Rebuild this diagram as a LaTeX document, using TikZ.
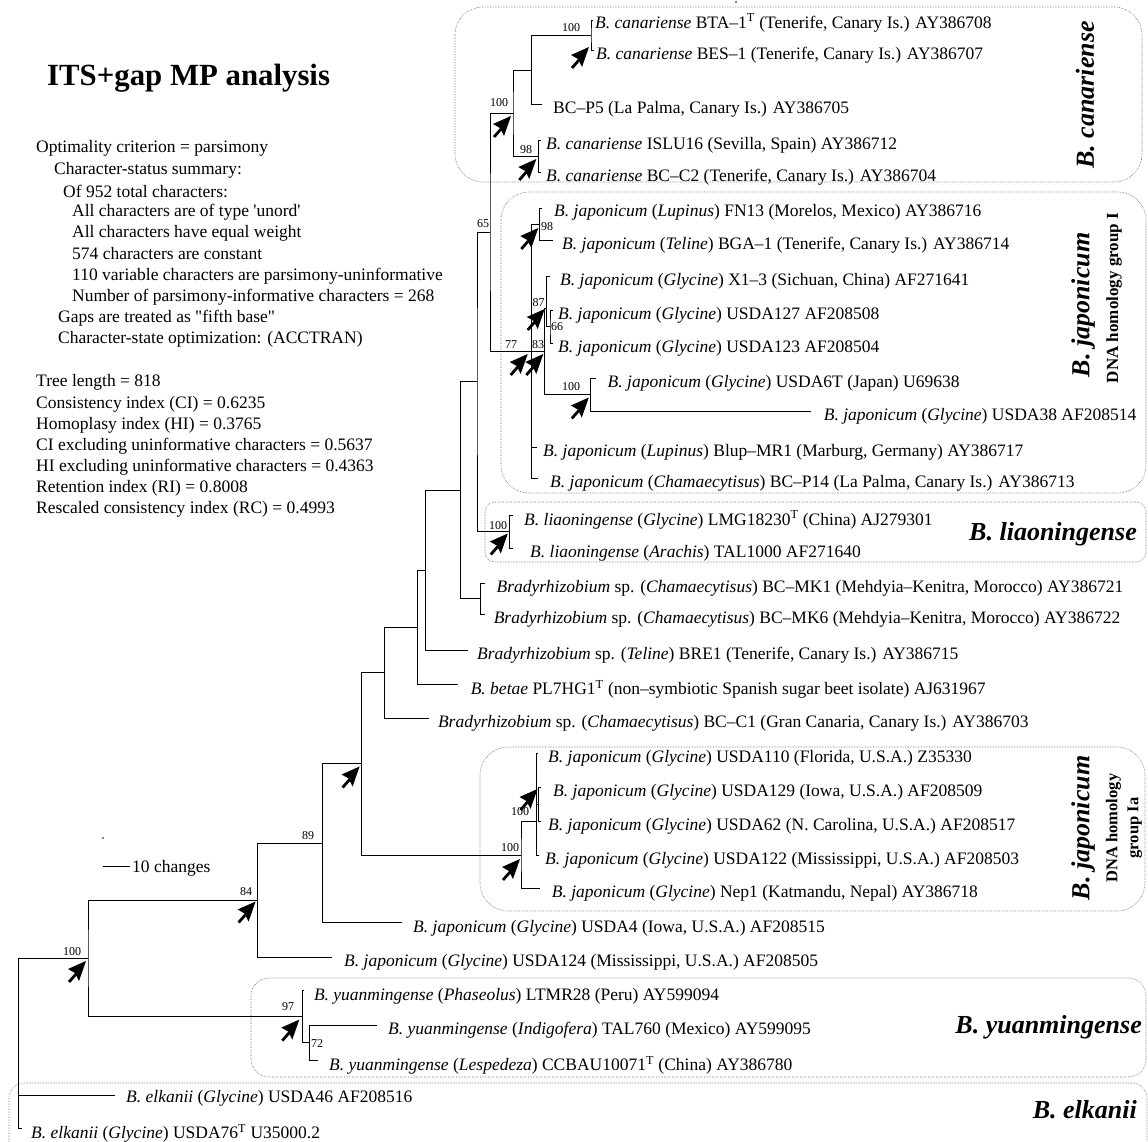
\documentclass[tikz,border=0pt]{standalone}
\usepackage{fontspec}
\setmainfont{Liberation Serif}
\newfontfamily\nolig{Liberation Serif}
\usetikzlibrary{arrows.meta,positioning}

\newcommand{\leaffont}{\fontsize{17.5}{21}\selectfont}
\newcommand{\bsfont}{\fontsize{12}{14}\selectfont}
\newcommand{\grpfont}{\bfseries\itshape\fontsize{26}{30}\selectfont}
\newcommand{\tsup}{\textsuperscript{T}}

\tikzset{
  leaf/.style={anchor=west, inner sep=0pt, font=\leaffont},
  stat/.style={anchor=west, inner sep=0pt, font=\leaffont},
  boot/.style={inner sep=0pt, font=\bsfont},
  grp/.style={inner sep=0pt, font=\grpfont},
  grpnote/.style={inner sep=0pt, font=\bfseries\fontsize{17}{21}\selectfont},
  branch/.style={line width=0.9pt},
  grpbox/.style={densely dotted, line width=0.6pt, black!60},
  bsarr/.pic={
    \fill (0,0) -- (-18,8) -- (-11,12) -- (-7,20) -- cycle;
    \draw[line width=2.8pt] (-10,13) -- (-17,21);
  }
}

\begin{document}
\begin{tikzpicture}[x=1pt,y=-1pt]
  \useasboundingbox (0,0) rectangle (1148,1141);
  \clip (0,0) rectangle (1148,1141);

  % title and statistics
  \node[anchor=west, inner sep=0pt, font=\bfseries\fontsize{30.8}{36}\selectfont] (title) at (47,78) {ITS+gap MP analysis};
  \node[stat] (s1) at (36,148) {Optimality criterion = parsimony};
  \node[stat] (s2) at (54,170) {Character-status summary:};
  \node[stat] (s3) at (63,191) {Of 952 total characters:};
  \node[stat] (s4) at (72,212) {All characters are of type {\nolig 'unord'}};
  \node[stat] (s5) at (72,233) {All characters have equal weight};
  \node[stat] (s6) at (72,254) {574 characters are constant};
  \node[stat] (s7) at (72,276) {110 variable characters are parsimony-uninformative};
  \node[stat] (s8) at (72,297) {Number of parsimony-informative characters = 268};
  \node[stat] (s9) at (58,318) {Gaps are treated as {\nolig "fifth base"}};
  \node[stat] (s10) at (58,339) {Character-state optimization: (ACCTRAN)};
  \node[stat] (s11) at (36,382) {Tree length = 818};
  \node[stat] (s12) at (36,404) {Consistency index (CI) = 0.6235};
  \node[stat] (s13) at (36,425) {Homoplasy index (HI) = 0.3765};
  \node[stat] (s14) at (36,446) {CI excluding uninformative characters = 0.5637};
  \node[stat] (s15) at (36,467) {HI excluding uninformative characters = 0.4363};
  \node[stat] (s16) at (36,488) {Retention index (RI) = 0.8008};
  \node[stat] (s17) at (36,509) {Rescaled consistency index (RC) = 0.4993};

  % group boxes
  \draw[grpbox, rounded corners=28pt] (455,7) rectangle (1142,182);
  \draw[grpbox, rounded corners=28pt] (501,192) rectangle (1146,493);
  \draw[grpbox, rounded corners=10pt] (485,502) rectangle (1146,562);
  \draw[grpbox, rounded corners=28pt] (480,747) rectangle (1145,911);
  \draw[grpbox, rounded corners=18pt] (251,978) rectangle (1146,1077);
  \draw[grpbox, rounded corners=15pt] (9,1083) rectangle (1147,1170);

  % internal nodes
  \coordinate (root) at (18,958);
  \coordinate (n100) at (88,958);
  \coordinate (n84) at (257.6,900.5);
  \coordinate (n89) at (322.6,843);
  \coordinate (nF) at (361.6,763.5);
  \coordinate (nE) at (384.9,672.5);
  \coordinate (nD) at (417.7,627);
  \coordinate (nC) at (425.5,570);
  \coordinate (nB) at (460.8,490);
  \coordinate (nA) at (477,381);
  \coordinate (n65) at (490,232);
  \coordinate (nCan) at (513,113);
  \coordinate (nCanP) at (531.7,70);
  \coordinate (nBTA) at (591,35);
  \coordinate (nCan98) at (538.3,156);
  \coordinate (n77) at (531.7,351);
  \coordinate (nJ98) at (539.3,224);
  \coordinate (n83) at (544.3,351);
  \coordinate (n87) at (546.7,308);
  \coordinate (n66) at (550,326.5);
  \coordinate (n100b) at (590.8,394.5);
  \coordinate (nLiao) at (509.8,531.5);
  \coordinate (nMK) at (480.4,598.5);
  \coordinate (nIa) at (521,855);
  \coordinate (nIaIn) at (536.7,821.7);
  \coordinate (nIa2) at (538.7,804);
  \coordinate (n97) at (302.3,1016.6);
  \coordinate (n72) at (309.2,1042.5);

  % leaf tips
  \coordinate (lBTA) at (593,20);
  \coordinate (lBES) at (594,50);
  \coordinate (lBCP5) at (541.7,104);
  \coordinate (lISLU) at (541,140);
  \coordinate (lBCC2) at (541,172);
  \coordinate (lFN13) at (542,208);
  \coordinate (lBGA) at (552.7,240);
  \coordinate (lX13) at (550,276);
  \coordinate (lU127) at (552.5,310);
  \coordinate (lU123) at (552.5,343);
  \coordinate (lU6T) at (595.6,378);
  \coordinate (lU38) at (811,411);
  \coordinate (lBlup) at (536.7,447);
  \coordinate (lP14) at (538,478);
  \coordinate (lLMG) at (513,515);
  \coordinate (lTAL1000) at (513,548);
  \coordinate (lMK1) at (485.3,583);
  \coordinate (lMK6) at (485.3,614);
  \coordinate (lBRE1) at (468,650);
  \coordinate (lbetae) at (458.4,684);
  \coordinate (lBCC1) at (429,718);
  \coordinate (lU110) at (537.5,753);
  \coordinate (lU129) at (540.5,787);
  \coordinate (lU62) at (540.5,821);
  \coordinate (lU122) at (539,855);
  \coordinate (lNep1) at (540,888);
  \coordinate (lU4) at (401.8,922.7);
  \coordinate (lU124) at (332,957);
  \coordinate (lLTMR) at (304,990.7);
  \coordinate (lTAL760) at (377,1025);
  \coordinate (lCCBAU) at (317.6,1060);
  \coordinate (lU46) at (115,1095);
  \coordinate (lU76) at (22,1128);

  % branches
  \draw[branch] (n100) -| (root) |- (lU76);
  \draw[branch] (root |- lU46) -- (lU46);
  \draw[branch] (n84) -| (n100) |- (n97);
  \draw[branch] (n89) -| (n84) |- (lU124);
  \draw[branch] (nF) -| (n89) |- (lU4);
  \draw[branch] (nE) -| (nF) |- (nIa);
  \draw[branch] (nD) -| (nE) |- (lBCC1);
  \draw[branch] (nC) -| (nD) |- (lbetae);
  \draw[branch] (nB) -| (nC) |- (lBRE1);
  \draw[branch] (nA) -| (nB) |- (nMK);
  \draw[branch] (n65) -| (nA) |- (nLiao);
  \draw[branch] (nCan) -| (n65) |- (n77);
  \draw[branch] (nCanP) -| (nCan) |- (nCan98);
  \draw[branch] (nBTA) -| (nCanP) |- (lBCP5);
  \draw[branch] (lBTA) -| (nBTA) |- (lBES);
  \draw[branch] (lISLU) -| (nCan98) |- (lBCC2);
  \draw[branch] (nJ98) -| (n77) |- (lP14);
  \draw[branch] (n77) -- (n83);
  \draw[branch] (n77 |- lBlup) -- (lBlup);
  \draw[branch] (lFN13) -| (nJ98) |- (lBGA);
  \draw[branch] (n87) -| (n83) |- (n100b);
  \draw[branch] (lX13) -| (n87) |- (n66);
  \draw[branch] (lU127) -| (n66) |- (lU123);
  \draw[branch] (lU6T) -| (n100b) |- (lU38);
  \draw[branch] (lLMG) -| (nLiao) |- (lTAL1000);
  \draw[branch] (lMK1) -| (nMK) |- (lMK6);
  \draw[branch] (nIaIn) -| (nIa) |- (lNep1);
  \draw[branch] (lU110) -| (nIaIn) |- (lU122);
  \draw[branch] (nIaIn |- nIa2) -- (nIa2);
  \draw[branch] (lU129) -| (nIa2) |- (lU62);
  \draw[branch] (lLTMR) -| (n97) |- (n72);
  \draw[branch] (lTAL760) -| (n72) |- (lCCBAU);

  % bootstrap values
  \node[boot] (bCan) at (499,103) {100};
  \node[boot] (bBTA) at (571,28) {100};
  \node[boot] (bCan98) at (526,150) {98};
  \node[boot] (b65) at (483,224) {65};
  \node[boot] (bJ98) at (547,227) {98};
  \node[boot] (b87) at (538.5,303) {87};
  \node[boot] (b66) at (557,327) {66};
  \node[boot] (b77) at (511,345) {77};
  \node[boot] (b83) at (538,345) {83};
  \node[boot] (b100b) at (571,387) {100};
  \node[boot] (bLiao) at (498,526) {100};
  \node[boot] (bIaIn) at (520,812) {100};
  \node[boot] (bIa) at (510,848) {100};
  \node[boot] (b89) at (308,836) {89};
  \node[boot] (b84) at (246,892) {84};
  \node[boot] (b100) at (72,952) {100};
  \node[boot] (b97) at (288,1007) {97};
  \node[boot] (b72) at (317,1044) {72};

  % support arrows
  \pic at ([shift={(-2,3)}]nCan) {bsarr};
  \pic at ([shift={(-2,12)}]nBTA) {bsarr};
  \pic at ([shift={(-2,3)}]nCan98) {bsarr};
  \pic at ([shift={(-1,4)}]nJ98) {bsarr};
  \pic at ([shift={(-2,1)}]n87) {bsarr};
  \pic at ([shift={(-4,3)}]n77) {bsarr};
  \pic at ([shift={(-1,3)}]n83) {bsarr};
  \pic at ([shift={(-2,3)}]n100b) {bsarr};
  \pic at ([shift={(-2,2)}]nLiao) {bsarr};
  \pic at ([shift={(-3,2)}]lU129) {bsarr};
  \pic at ([shift={(-1,4)}]nIa) {bsarr};
  \pic at ([shift={(-2,3)}]nF) {bsarr};
  \pic at ([shift={(-2,1)}]n84) {bsarr};
  \pic at ([shift={(-2,3)}]n100) {bsarr};
  \pic at ([shift={(-3,3)}]n97) {bsarr};

  % leaf labels
  \node[leaf] (tBTA) at (595,23) {\textit{B. canariense} BTA–1\tsup{} (Tenerife, Canary Is.) AY386708};
  \node[leaf] (tBES) at (596,55) {\textit{B. canariense} BES–1 (Tenerife, Canary Is.) AY386707};
  \node[leaf] (tBCP5) at (553,109) {BC–P5 (La Palma, Canary Is.) AY386705};
  \node[leaf] (tISLU) at (546,145) {\textit{B. canariense} ISLU16 (Sevilla, Spain) AY386712};
  \node[leaf] (tBCC2) at (546,177) {\textit{B. canariense} BC–C2 (Tenerife, Canary Is.) AY386704};
  \node[leaf] (tFN13) at (554,212) {\textit{B. japonicum} (\textit{Lupinus}) FN13 (Morelos, Mexico) AY386716};
  \node[leaf] (tBGA) at (562,245) {\textit{B. japonicum} (\textit{Teline}) BGA–1 (Tenerife, Canary Is.) AY386714};
  \node[leaf] (tX13) at (560,281) {\textit{B. japonicum} (\textit{Glycine}) X1–3 (Sichuan, China) AF271641};
  \node[leaf] (tU127) at (558,315) {\textit{B. japonicum} (\textit{Glycine}) USDA127 AF208508};
  \node[leaf] (tU123) at (558,348) {\textit{B. japonicum} (\textit{Glycine}) USDA123 AF208504};
  \node[leaf] (tU6T) at (607.5,383) {\textit{B. japonicum} (\textit{Glycine}) USDA6T (Japan) U69638};
  \node[leaf] (tU38) at (823.6,416) {\textit{B. japonicum} (\textit{Glycine}) USDA38 AF208514};
  \node[leaf] (tBlup) at (543,452) {\textit{B. japonicum} (\textit{Lupinus}) Blup–MR1 (Marburg, Germany) AY386717};
  \node[leaf] (tP14) at (550,483) {\textit{B. japonicum} (\textit{Chamaecytisus}) BC–P14 (La Palma, Canary Is.) AY386713};
  \node[leaf] (tLMG) at (524,520) {\textit{B. liaoningense} (\textit{Glycine}) LMG18230\tsup{} (China) AJ279301};
  \node[leaf] (tTAL1000) at (530,553) {\textit{B. liaoningense} (\textit{Arachis}) TAL1000 AF271640};
  \node[leaf] (tMK1) at (496.5,588) {\textit{Bradyrhizobium} sp. (\textit{Chamaecytisus}) BC–MK1 (Mehdyia–Kenitra, Morocco) AY386721};
  \node[leaf] (tMK6) at (493.6,619) {\textit{Bradyrhizobium} sp. (\textit{Chamaecytisus}) BC–MK6 (Mehdyia–Kenitra, Morocco) AY386722};
  \node[leaf] (tBRE1) at (477,655) {\textit{Bradyrhizobium} sp. (\textit{Teline}) BRE1 (Tenerife, Canary Is.) AY386715};
  \node[leaf] (tbetae) at (470.6,689) {\textit{B. betae} PL7HG1\tsup{} (non–symbiotic Spanish sugar beet isolate) AJ631967};
  \node[leaf] (tBCC1) at (437.8,723) {\textit{Bradyrhizobium} sp. (\textit{Chamaecytisus}) BC–C1 (Gran Canaria, Canary Is.) AY386703};
  \node[leaf] (tU110) at (548,758) {\textit{B. japonicum} (\textit{Glycine}) USDA110 (Florida, U.S.A.) Z35330};
  \node[leaf] (tU129) at (553,792) {\textit{B. japonicum} (\textit{Glycine}) USDA129 (Iowa, U.S.A.) AF208509};
  \node[leaf] (tU62) at (548,826) {\textit{B. japonicum} (\textit{Glycine}) USDA62 (N. Carolina, U.S.A.) AF208517};
  \node[leaf] (tU122) at (545,860) {\textit{B. japonicum} (\textit{Glycine}) USDA122 (Mississippi, U.S.A.) AF208503};
  \node[leaf] (tNep1) at (551.7,893) {\textit{B. japonicum} (\textit{Glycine}) Nep1 (Katmandu, Nepal) AY386718};
  \node[leaf] (tU4) at (413,928) {\textit{B. japonicum} (\textit{Glycine}) USDA4 (Iowa, U.S.A.) AF208515};
  \node[leaf] (tU124) at (344,962) {\textit{B. japonicum} (\textit{Glycine}) USDA124 (Mississippi, U.S.A.) AF208505};
  \node[leaf] (tLTMR) at (313.8,996) {\textit{B. yuanmingense} (\textit{Phaseolus}) LTMR28 (Peru) AY599094};
  \node[leaf] (tTAL760) at (388,1030) {\textit{B. yuanmingense} (\textit{Indigofera}) TAL760 (Mexico) AY599095};
  \node[leaf] (tCCBAU) at (329,1065) {\textit{B. yuanmingense} (\textit{Lespedeza}) CCBAU10071\tsup{} (China) AY386780};
  \node[leaf] (tU46) at (126,1098) {\textit{B. elkanii} (\textit{Glycine}) USDA46 AF208516};
  \node[leaf] (tU76) at (31,1133) {\textit{B. elkanii} (\textit{Glycine}) USDA76\tsup{} U35000.2};

  % group names
  \node[grp, rotate=90] (gCan) at (1085,95) {B. canariense};
  \node[grp, rotate=90] (gJapI) at (1083,305) {B. japonicum};
  \node[grpnote, rotate=90] (gJapInote) at (1114,298) {DNA homology group I};
  \node[grp, anchor=east] (gLiao) at (1137,534) {B. liaoningense};
  \node[grp, rotate=90] (gJapIa) at (1083,828) {B. japonicum};
  \node[grpnote, rotate=90, align=center, font=\bfseries\fontsize{16.5}{21}\selectfont] (gJapIanote) at (1124,828) {DNA homology\\group Ia};
  \node[grp, anchor=east] (gYuan) at (1142,1027) {B. yuanmingense};
  \node[grp, anchor=east] (gElk) at (1137,1110) {B. elkanii};

  % scale bar
  \coordinate (sbL) at (102.6,866.7);
  \coordinate (sbR) at (130,866.7);
  \draw[branch] (sbL) -- (sbR);
  \node[leaf] (sbT) at (132,868) {10 changes};
  \fill (103,838) circle (0.8);
  \fill (736,2) circle (0.8);
\end{tikzpicture}
\end{document}
